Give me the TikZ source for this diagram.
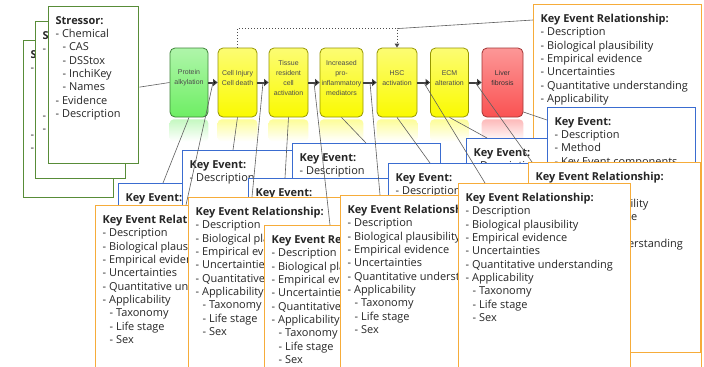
\documentclass[tikz,border=0pt]{standalone}
\usepackage{fontspec}
\setmainfont{Open Sans}
\newfontfamily\chainfont{Liberation Sans}
\usetikzlibrary{arrows.meta,calc}

\definecolor{stressorgreen}{RGB}{88,140,56}
\definecolor{keblue}{RGB}{58,108,208}
\definecolor{kerorange}{RGB}{246,172,58}
\definecolor{aopgreen}{RGB}{110,238,100}
\definecolor{aopyellow}{RGB}{250,250,0}
\definecolor{aopred}{RGB}{250,82,82}
\definecolor{linkgray}{RGB}{95,95,95}

\newcommand{\indentsub}{\hspace*{7bp}}
\newcommand{\stressortext}{\textbf{Stressor:}\\- Chemical\\\indentsub- CAS\\\indentsub- DSStox\\\indentsub- InchiKey\\\indentsub- Names\\- Evidence\\- Description}
\newcommand{\ketext}{\textbf{Key Event:}\\- Description}
\newcommand{\kertext}{\textbf{Key Event Relationship:}\\- Description\\- Biological plausibility\\- Empirical evidence\\- Uncertainties\\- Quantitative understanding\\- Applicability\\\indentsub- Taxonomy\\\indentsub- Life stage\\\indentsub- Sex}

\begin{document}
\begin{tikzpicture}[x=1bp,y=-1bp,
    stressorbox/.style={shape=rectangle,draw=stressorgreen,line width=1.3bp,fill=white,anchor=north west,minimum width=90bp,minimum height=157bp,inner sep=0pt},
    kebox/.style={shape=rectangle,draw=keblue,line width=1.3bp,fill=white,anchor=north west,minimum width=148bp,minimum height=60bp,inner sep=0pt},
    kerbox/.style={shape=rectangle,draw=kerorange,line width=1.3bp,fill=white,anchor=north west,minimum width=172bp,minimum height=190bp,inner sep=0pt},
    boxtext/.style={anchor=north west,inner sep=0pt,align=left,text=black!85,font=\fontsize{11}{13.4}\selectfont},
    aopbox/.style={shape=rectangle,rounded corners=5bp,minimum width=40bp,minimum height=69bp,line width=0.8bp,inner sep=0pt},
    aoptext/.style={align=center,inner sep=0pt,text=black!70,font=\chainfont\fontsize{7}{10}\selectfont},
    aoparrow/.style={draw=black!75,line width=2bp,-{Triangle[length=4.5bp,width=7bp]}},
    link/.style={draw=linkgray,line width=0.6bp},
    dotarrow/.style={draw=black!70,line width=1bp,dotted,-{Triangle[length=4bp,width=4.5bp]}}]

    \useasboundingbox (0,0) rectangle (704,366);
    \clip (0,0) rectangle (704,366);
    \fill[white] (0,0) rectangle (704,366);

    % stressor boxes
    \node[stressorbox] (s3) at (23,40) {};
    \node[boxtext] (s3 text) at ([xshift=7.5bp,yshift=-10bp]s3.north west) {\stressortext};
    \node[stressorbox] (s2) at (35,21) {};
    \node[boxtext] (s2 text) at ([xshift=7.5bp,yshift=-10bp]s2.north west) {\stressortext};
    \node[stressorbox] (s1) at (48,6) {};
    \node[boxtext] (s1 text) at ([xshift=7.5bp,yshift=-10bp]s1.north west) {\stressortext};

    % AOP chain
    \node[aopbox,draw=aopgreen!55!black,top color=aopgreen!55!white,bottom color=aopgreen,minimum width=38bp] (pa) at (189,82.5) {};
    \node[aopbox,draw=aopyellow!60!black,top color=aopyellow!55!white,bottom color=aopyellow,minimum width=39bp] (cd) at (237.5,82.5) {};
    \node[aopbox,draw=aopyellow!60!black,top color=aopyellow!55!white,bottom color=aopyellow,minimum width=39bp] (tr) at (288.5,82.5) {};
    \node[aopbox,draw=aopyellow!60!black,top color=aopyellow!55!white,bottom color=aopyellow,minimum width=43bp] (pim) at (341.5,82.5) {};
    \node[aopbox,draw=aopyellow!60!black,top color=aopyellow!55!white,bottom color=aopyellow] (hsc) at (397,82.5) {};
    \node[aopbox,draw=aopyellow!60!black,top color=aopyellow!55!white,bottom color=aopyellow,minimum width=38bp] (ecm) at (449.5,82.5) {};
    \node[aopbox,draw=aopred!65!black,top color=aopred!60!white,bottom color=aopred,minimum width=41bp] (lf) at (502.5,82.5) {};
    \foreach \b/\c in {pa/aopgreen,cd/aopyellow,tr/aopyellow,pim/aopyellow,hsc/aopyellow,ecm/aopyellow,lf/aopred}
        \shade[top color=\c!40!white,bottom color=white,rounded corners=4bp] ([yshift=-2bp]\b.south west) rectangle ([yshift=-24bp]\b.south east);

    \node[aoptext] (pa text) at ([yshift=4.5bp]pa.center) {Protein\\alkylation};
    \node[aoptext] (cd text) at ([yshift=4.5bp]cd.center) {Cell Injury\\Cell death};
    \node[aoptext] (tr text) at ([yshift=4.5bp]tr.center) {Tissue\\resident\\cell\\activation};
    \node[aoptext] (pim text) at ([yshift=4.5bp]pim.center) {Increased\\pro-\\inflammatory\\mediators};
    \node[aoptext] (hsc text) at ([yshift=4.5bp]hsc.center) {HSC\\activation};
    \node[aoptext] (ecm text) at ([yshift=4.5bp]ecm.center) {ECM\\alteration};
    \node[aoptext,text=black!80] (lf text) at ([yshift=4.5bp]lf.center) {Liver\\fibrosis};

    \path[aoparrow] (pa) edge (cd);
    \path[aoparrow] (cd) edge (tr);
    \path[aoparrow] (tr) edge (pim);
    \path[aoparrow] (pim) edge (hsc);
    \path[aoparrow] (hsc) edge (ecm);
    \path[aoparrow] (ecm) edge (lf);

    \coordinate (hop) at ([yshift=19bp]hsc.north);
    \draw[dotarrow] (cd.north) |- (hop) -- (hsc.north);

    % KER behind, top right
    \node[kerbox,minimum width=168bp,minimum height=380bp] (kertr) at (533,4) {};
    \node[boxtext] (kertr text) at ([xshift=7.5bp,yshift=-10bp]kertr.north west) {\kertext};

    % key events
    \node[kebox] (ke1) at (118,183) {};
    \node[boxtext] (ke1 text) at ([xshift=7.5bp,yshift=-10bp]ke1.north west) {\ketext};
    \node[kebox] (ke2) at (182,150) {};
    \node[boxtext] (ke2 text) at ([xshift=7.5bp,yshift=-10bp]ke2.north west) {\ketext};
    \node[kebox] (ke4) at (292,143) {};
    \node[boxtext] (ke4 text) at ([xshift=7.5bp,yshift=-10bp]ke4.north west) {\ketext};
    \node[kebox] (ke3) at (248,178) {};
    \node[boxtext] (ke3 text) at ([xshift=7.5bp,yshift=-10bp]ke3.north west) {\ketext};
    \node[kebox] (ke6) at (466,138) {};
    \node[boxtext] (ke6 text) at ([xshift=7.5bp,yshift=-10bp]ke6.north west) {\ketext};
    \node[kebox] (ke5) at (388,163) {};
    \node[boxtext] (ke5 text) at ([xshift=7.5bp,yshift=-10bp]ke5.north west) {\ketext};
    \node[kebox,minimum height=80bp] (ke7) at (547,107) {};
    \node[boxtext] (ke7 text) at ([xshift=7.5bp,yshift=-10bp]ke7.north west) {\ketext\\- Method\\- Key Event components};

    % key event relationships
    \node[kerbox] (kerr) at (528,162) {};
    \node[boxtext] (kerr text) at ([xshift=7.5bp,yshift=-10bp]kerr.north west) {\kertext};
    \node[kerbox] (ker1) at (95,205) {};
    \node[boxtext] (ker1 text) at ([xshift=7.5bp,yshift=-10bp]ker1.north west) {\kertext};
    \node[kerbox] (ker2) at (188,197) {};
    \node[boxtext] (ker2 text) at ([xshift=7.5bp,yshift=-10bp]ker2.north west) {\kertext};
    \node[kerbox] (ker3) at (264,225) {};
    \node[boxtext] (ker3 text) at ([xshift=7.5bp,yshift=-10bp]ker3.north west) {\kertext};
    \node[kerbox] (ker4) at (340,195) {};
    \node[boxtext] (ker4 text) at ([xshift=7.5bp,yshift=-10bp]ker4.north west) {\kertext};
    \node[kerbox] (ker5) at (458,183) {};
    \node[boxtext] (ker5 text) at ([xshift=7.5bp,yshift=-10bp]ker5.north west) {\kertext};

    % links
    \path[link] ([yshift=-2bp]s1.east) edge (pa.west);
    \path[link] (hop) edge ([yshift=-16bp]kertr.north west);
    \path[link] (pa.south) edge ([xshift=45bp]ke1.north west);
    \path[link] ($(pa.east)!0.5!(cd.west)$) edge ([xshift=91bp]ker1.north west);
    \path[link] (cd.south) edge ([xshift=51bp]ke2.north west);
    \path[link] ($(cd.east)!0.5!(tr.west)$) edge ([xshift=64bp]ker2.north west);
    \path[link] (tr.south) edge ([xshift=37bp]ke3.north west);
    \path[link] ($(tr.east)!0.5!(pim.west)$) edge ([xshift=66bp]ker3.north west);
    \path[link] (pim.south) edge ([xshift=74bp]ke4.north west);
    \path[link] ($(pim.east)!0.5!(hsc.west)$) edge ([xshift=40bp]ker4.north west);
    \path[link] (hsc.south) edge ([xshift=42bp]ke5.north west);
    \path[link] ($(hsc.east)!0.5!(ecm.west)$) edge ([xshift=27bp]ker5.north west);
    \path[link] (ecm.south) edge ([xshift=21bp]ke6.north west);
    \path[link] ($(ecm.east)!0.5!(lf.west)$) edge ([xshift=4bp]kerr.north west);
    \path[link] ([yshift=-29.5bp]lf.east) edge ([yshift=-13bp]ke7.north west);
\end{tikzpicture}
\end{document}
